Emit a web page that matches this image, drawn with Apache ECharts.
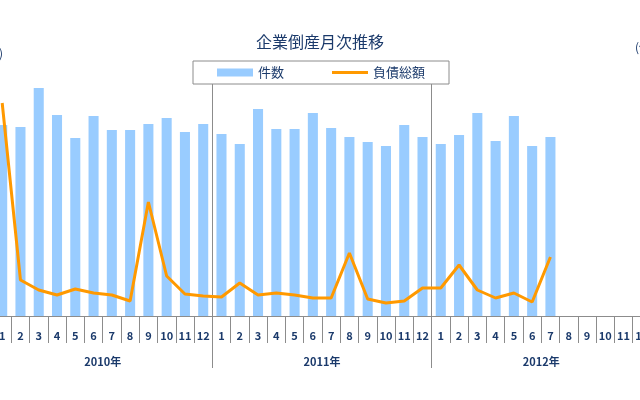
<!DOCTYPE html>
<html><head><meta charset="utf-8">
<script src="https://cdn.jsdelivr.net/npm/echarts@6/dist/echarts.min.js"></script>
<style>html,body{margin:0;padding:0;background:#fff;overflow:hidden}#main{position:absolute;left:-20px;top:0;width:690px;height:400px}</style>
</head><body><div id="main"></div>
<script>
const months = ['1','2','3','4','5','6','7','8','9','10','11','12','1','2','3','4','5','6','7','8','9','10','11','12','1','2','3','4','5','6','7','8','9','10','11','12'];
const years = ['2010年','2011年','2012年'];
const counts = [1114,1103,1330,1173,1038,1167,1085,1085,1120,1155,1073,1120,
                1062,1003,1208,1091,1091,1184,1097,1044,1015,992,1114,1044,
                1003,1056,1184,1021,1167,992,1044];
const debts = [21300,3600,2600,2100,2700,2300,2100,1500,11400,4000,2200,2000,
               1900,3300,2100,2300,2100,1800,1800,6300,1700,1300,1500,2800,
               2800,5100,2600,1800,2300,1400,5900];
const seriesNames = ['件数','負債総額'];
const navy = '#1b3a6b';
const font = '"Noto Sans CJK JP", sans-serif';
const chart = echarts.init(document.getElementById('main'), null, {renderer:'canvas'});
chart.setOption({
  animation:false,
  textStyle:{fontFamily:font},
  title:{text:'企業倒産月次推移', left:271, top:29,
    textStyle:{fontFamily:font, fontSize:16, fontWeight:'normal', color:navy}},
  legend:{left:213, top:61, padding:[5,24,5,24], itemGap:48, itemWidth:36, itemHeight:8,
    borderColor:'#8c8c8c', borderWidth:1, backgroundColor:'#fff',
    textStyle:{fontFamily:font, fontSize:13, color:navy},
    data:[{name:seriesNames[0], icon:'rect'},
          {name:seriesNames[1], icon:'path://M0,0 L36,0 L36,3 L0,3 Z'}]},
  grid:{left:13, right:18, top:76, bottom:84},
  xAxis:[{type:'category', data:months, boundaryGap:true,
      axisLine:{lineStyle:{color:'#8c8c8c', width:1}},
      axisTick:{show:true, length:27, lineStyle:{color:'#8c8c8c'}},
      axisLabel:{interval:0, margin:14, fontSize:11, fontWeight:'bold', color:navy, fontFamily:font}},
    {type:'category', data:years, position:'bottom', boundaryGap:true,
      axisLine:{show:false},
      axisTick:{show:true, length:52, lineStyle:{color:'#8c8c8c'}},
      splitLine:{show:true, lineStyle:{color:'#8c8c8c', width:1}},
      axisLabel:{interval:0, margin:40, fontSize:11, fontWeight:'bold', color:navy, fontFamily:font}}],
  yAxis:[{type:'value', min:0, max:1400, name:'(件)', nameLocation:'end', nameGap:17,
      nameTextStyle:{color:navy, fontSize:12, fontFamily:font},
      axisLine:{show:false}, axisTick:{show:false}, axisLabel:{show:false}, splitLine:{show:false}},
    {type:'value', min:0, max:24000, name:'(億円)', nameLocation:'end', nameGap:23,
      nameTextStyle:{color:navy, fontSize:12, fontFamily:font},
      axisLine:{show:false}, axisTick:{show:false}, axisLabel:{show:false}, splitLine:{show:false}}],
  series:[
    {name:seriesNames[0], type:'bar', data:counts, xAxisIndex:0, yAxisIndex:0, barWidth:'55%',
      itemStyle:{color:'#99ccff'}},
    {name:seriesNames[1], type:'line', data:debts, xAxisIndex:0, yAxisIndex:1, symbol:'none',
      lineStyle:{color:'#ff9900', width:3}, itemStyle:{color:'#ff9900'}, z:3}
  ]
});
</script></body></html>
